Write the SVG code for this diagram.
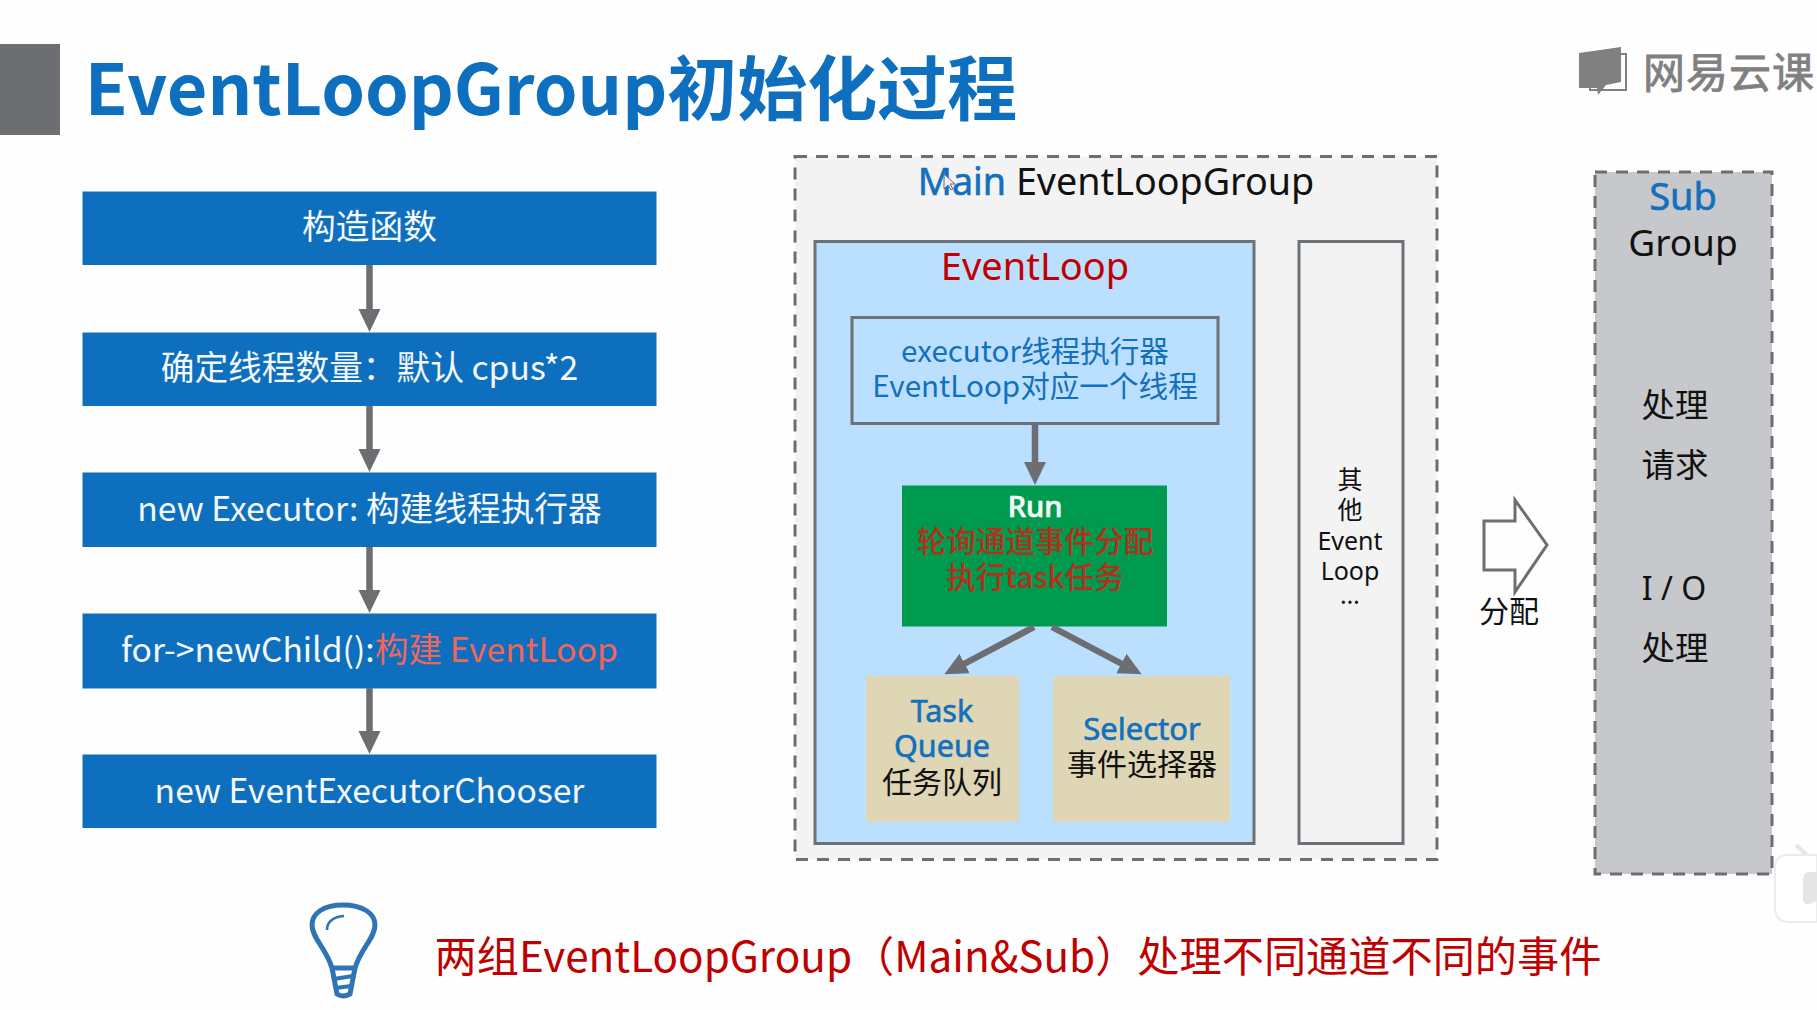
<svg xmlns="http://www.w3.org/2000/svg" width="1817" height="1010" viewBox="0 0 1817 1010">
<defs>
<marker id="ah" markerUnits="userSpaceOnUse" markerWidth="26" markerHeight="24" refX="3" refY="12" orient="auto"><path d="M0 1 L23 12 L0 23 Z" fill="#6d6e72"/></marker>
<style>
text{font-family:"Noto Sans CJK SC","Noto Sans",sans-serif;text-anchor:middle}
.sans{font-family:"Noto Sans","Noto Sans CJK SC",sans-serif}
.step{fill:#0d6fbe}
.stept{fill:#f4f8fc;font-size:33.700px}
.conn{stroke:#6d6e72;stroke-width:6.500;fill:none;marker-end:url(#ah)}
.blue{fill:#1270bd}
.heavy{stroke:#1270bd;stroke-width:0.600}
.blk{fill:#111}
.tan{fill:#ded6b5}
.panel{stroke:#6d7278;stroke-width:3}
.dash{stroke:#6d6e72;stroke-width:3;stroke-dasharray:12 9}
</style>
</defs>
<rect width="1817" height="1010" fill="#fefefe"/>
<g id="title">
<rect x="0" y="44" width="60" height="91" fill="#6d6e72"/>
<text x="551" y="115" style="font-size:70px;font-weight:700" fill="#0d6fbe">EventLoopGroup初始化过程</text>
</g>
<g id="logo">
<path d="M1590 54 L1626 54 L1626 90 L1600 90 L1590 90 Z" fill="none" stroke="#808080" stroke-width="2"/>
<path d="M1579 53 L1621 47 L1621 82 L1606 85 L1598 95 L1597 88 L1579 88 Z" fill="#808080"/>
<text x="1729" y="88" style="font-size:42px;letter-spacing:1px" fill="#808080" stroke="#808080" stroke-width="0.800">网易云课</text>
</g>
<g id="step1"><rect class="step" x="82.500" y="191.500" width="574" height="73.500"/><text class="stept" x="369.500" y="239">构造函数</text></g>
<g id="step2"><rect class="step" x="82.500" y="332.500" width="574" height="73.500"/><text class="stept" x="369.500" y="380">确定线程数量：默认 cpus*2</text></g>
<g id="step3"><rect class="step" x="82.500" y="472.500" width="574" height="74.500"/><text class="stept" x="369.500" y="521">new Executor: 构建线程执行器</text></g>
<g id="step4"><rect class="step" x="82.500" y="613.500" width="574" height="75"/><text class="stept" x="369.500" y="662">for-&gt;newChild():<tspan fill="#f0665a">构建 EventLoop</tspan></text></g>
<g id="step5"><rect class="step" x="82.500" y="754.500" width="574" height="73.500"/><text class="stept" x="369.500" y="803">new EventExecutorChooser</text></g>
<g id="main-group">
<rect class="dash" x="795" y="156.500" width="642" height="703" fill="#f3f3f3"/>
<text class="sans blk" x="1116" y="195" style="font-size:37.700px"><tspan class="blue heavy">Main</tspan> EventLoopGroup</text>
<path d="M944 174 L944 189 L948 185 L951 190 L953 189 L950 184 L955 184 Z" fill="#eef" stroke="#667" stroke-width="1"/>
</g>
<g id="eventloop">
<rect class="panel" x="815" y="241.500" width="439" height="602" fill="#bbdfff"/>
<text class="sans" x="1035" y="280" style="font-size:38px" fill="#c00000">EventLoop</text>
</g>
<g id="executor">
<rect class="panel" x="852" y="317.500" width="366" height="106" fill="#bbdfff"/>
<text class="blue" x="1035" y="362" style="font-size:29.600px">executor线程执行器</text>
<text class="blue" x="1035" y="397" style="font-size:29.600px">EventLoop对应一个线程</text>
</g>
<g id="run">
<rect x="902" y="485.500" width="265" height="141" fill="#009a4e"/>
<text class="sans" x="1035" y="517" style="font-size:29px;font-weight:500" fill="#f4fbf6" stroke="#f4fbf6" stroke-width="0.700">Run</text>
<text x="1035" y="552" style="font-size:29.600px;font-weight:500" fill="#b5301c">轮询通道事件分配</text>
<text x="1035" y="588" style="font-size:29.600px;font-weight:500" fill="#b5301c">执行task任务</text>
</g>
<g id="taskqueue">
<rect class="tan" x="866" y="676" width="153" height="146"/>
<text class="sans blue heavy" x="942" y="722" style="font-size:30.500px">Task</text>
<text class="sans blue heavy" x="942" y="757" style="font-size:30.500px">Queue</text>
<text class="blk" x="942" y="793" style="font-size:30px">任务队列</text>
</g>
<g id="selector">
<rect class="tan" x="1053" y="676" width="177" height="146"/>
<text class="sans blue heavy" x="1142" y="740" style="font-size:31px">Selector</text>
<text class="blk" x="1142" y="775" style="font-size:30px">事件选择器</text>
</g>
<g id="other">
<rect class="panel" x="1299" y="241.500" width="104" height="602" fill="#f3f3f3"/>
<text class="blk" x="1350" y="489" style="font-size:25px">其</text>
<text class="blk" x="1350" y="519" style="font-size:25px">他</text>
<text class="sans blk" x="1350" y="550" style="font-size:25px">Event</text>
<text class="sans blk" x="1350" y="580" style="font-size:25px">Loop</text>
<text class="sans blk" x="1350" y="604" style="font-size:25px">…</text>
</g>
<g id="dispatch">
<path d="M1484 521 H1515 V500 L1547 545 L1515 592 V570 H1484 Z" fill="#fefefe" stroke="#6d6e72" stroke-width="3"/>
<text class="blk" x="1509" y="622" style="font-size:30px">分配</text>
</g>
<g id="sub-group">
<rect class="dash" x="1595" y="172" width="177" height="702" fill="#c6c8cb"/>
<text class="sans blue heavy" x="1683" y="210" style="font-size:38px">Sub</text>
<text class="sans blk" x="1683" y="256" style="font-size:37px">Group</text>
<text class="blk" x="1675" y="417" style="font-size:33.500px">处理</text>
<text class="blk" x="1675" y="477" style="font-size:33.500px">请求</text>
<text class="sans blk" x="1674" y="600" style="font-size:32px">I / O</text>
<text class="blk" x="1675" y="660" style="font-size:33.500px">处理</text>
</g>
<g id="connectors">
<line class="conn" x1="369.500" y1="265" x2="369.500" y2="312"/>
<line class="conn" x1="369.500" y1="406" x2="369.500" y2="452"/>
<line class="conn" x1="369.500" y1="547" x2="369.500" y2="593"/>
<line class="conn" x1="369.500" y1="688" x2="369.500" y2="734"/>
<line class="conn" x1="1035" y1="423" x2="1035" y2="465"/>
<line class="conn" x1="1034" y1="627" x2="962" y2="665"/>
<line class="conn" x1="1052" y1="627" x2="1124" y2="665"/>
</g>
<g id="bulb" fill="none" stroke="#2f75b5">
<path d="M332 968 C326 948 312 938 312 925 C312 913 324 905 343 905 C362 905 375 913 375 925 C375 938 361 948 355 968 Z" stroke-width="5"/>
<path d="M327 930 C327 921 333 917 344 916" stroke-width="2.500"/>
<path d="M332 968 L355 968 M334 979 L353 976 M336 988 L351 986" stroke-width="4"/>
<path d="M332 968 L337 994 Q343 998 350 994 L355 968" stroke-width="5"/>
</g>
<g id="note">
<text x="1018" y="972" style="font-size:42.200px" fill="#c00000">两组EventLoopGroup（Main&amp;Sub）处理不同通道不同的事件</text>
</g>
<g id="corner">
<path d="M1796 845 L1810 858" stroke="#e6e6e6" stroke-width="4" fill="none"/>
<path d="M1817 855 H1788 Q1775 855 1775 868 V908 Q1775 922 1790 922 H1817 Z" fill="#fff" stroke="#ececec" stroke-width="2"/>
<path d="M1817 872 H1808 Q1803 873 1803 880 V898 Q1803 905 1809 904 L1817 901 Z" fill="#e6e6e6"/>
</g>
</svg>
